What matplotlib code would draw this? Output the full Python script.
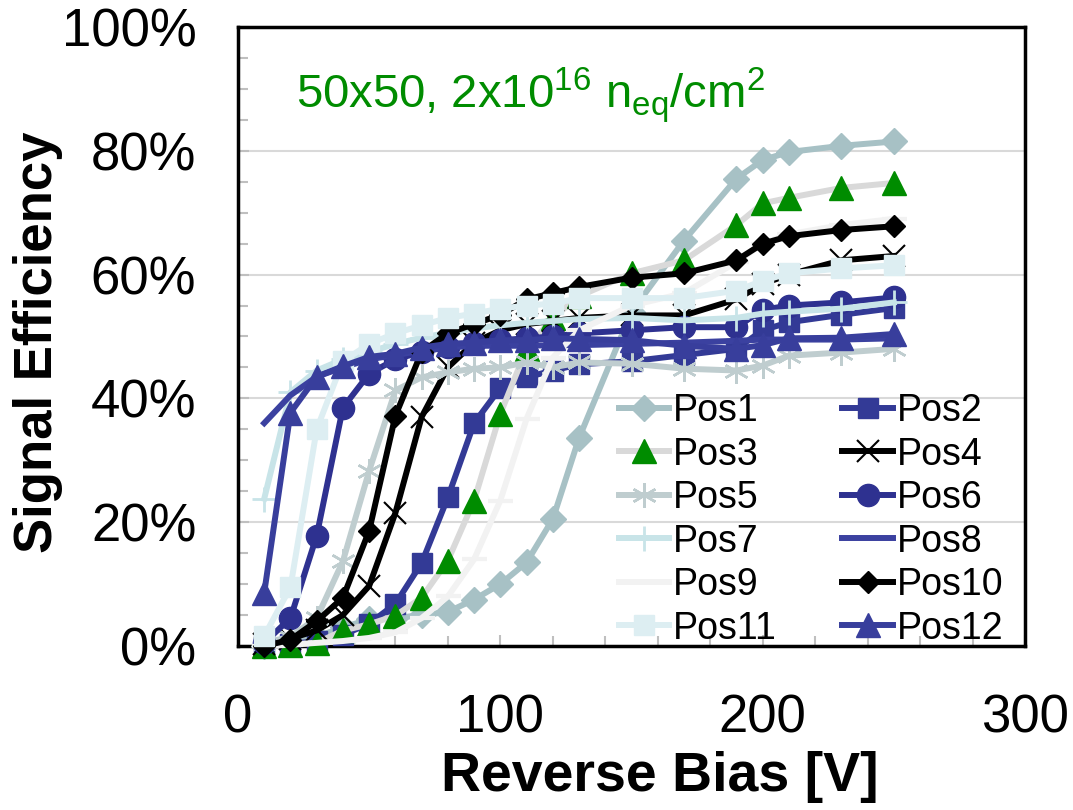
import matplotlib
matplotlib.use("Agg")
import matplotlib.pyplot as plt
from matplotlib.ticker import MultipleLocator, FuncFormatter

# Fonts
plt.rcParams["font.family"] = ["Liberation Sans", "DejaVu Sans"]
plt.rcParams["mathtext.default"] = "regular"

# Data: reverse bias [V] and signal efficiency [%] per position
bias = [10, 20, 30, 40, 50, 60, 70, 80, 90, 100, 110, 120, 130,
        150, 170, 190, 200, 210, 230, 250]

pos1 = [0, 0.5, 1.5, 3, 4.3, 4.5, 5, 5.5, 7.5, 10, 13.5, 20.5, 33.6,
        54, 65.5, 75.5, 78.5, 79.8, 80.8, 81.5]
pos2 = [0, 0.3, 0.8, 1.8, 3.6, 6.8, 13.4, 24, 36, 41.7, 43.4, 44.5, 45.5,
        46, 47, 48, 51, 52.3, 53.5, 54.6]
pos3 = [0, 0.2, 0.5, 2.5, 3.5, 4.9, 7.8, 13.8, 23.5, 37.5, 48, 53, 56.5,
        60.2, 62.3, 68, 71.5, 72.4, 74, 74.8]
pos4 = [0.3, 1.2, 2.5, 5, 9.7, 21.5, 37, 45, 49, 51, 52, 52.5, 53,
        53.4, 53.4, 56, 58.5, 60, 62.3, 63]
pos5 = [0.5, 1.5, 4.5, 13.7, 28.3, 41.3, 43.4, 44.2, 44.8, 45, 45.8, 45, 45.8,
        45.6, 44.8, 44.5, 45.3, 46.9, 47.4, 48]
pos6 = [0.5, 4.5, 17.8, 38.5, 44, 46.3, 47.5, 48.3, 49, 49.4, 49.7, 50, 50.5,
        51, 51.5, 51.5, 54.3, 55, 55.5, 56.3]
pos7 = [23.8, 41, 44.5, 46.3, 47.5, 48.8, 49.8, 50.6, 51.3, 51.8, 52.2, 52.5, 52.8,
        53, 52.6, 53, 53.7, 54, 54.5, 55.5]
pos8 = [36, 40.5, 43.5, 45, 46.3, 47, 47.7, 48.2, 48.5, 48.5, 48.5, 48.6, 48.6,
        48.8, 49, 49.3, 49.5, 49.5, 49.5, 49.7]
pos9 = [0, 0.2, 0.5, 0.8, 1.3, 2.2, 4.5, 8, 14, 23.5, 36.7, 46.6, 51,
        55, 57, 62, 65, 66.5, 68, 69]
pos10 = [0, 1, 4, 7.8, 18.6, 37.2, 47.5, 50.5, 52, 53.5, 56, 57, 58,
         59.5, 60.2, 62.3, 65, 66.2, 67.2, 67.8]
pos11 = [1.6, 9.5, 35, 46, 48.8, 50.5, 51.8, 53, 53.7, 54.5, 55, 55.3, 56.2,
         56.2, 56.2, 57.4, 59, 60.2, 61, 61.5]
pos12 = [8.6, 37.7, 43.5, 45.2, 46.7, 47.2, 48.2, 48.8, 49, 49.4, 49.4, 49.7, 49.6,
         49.4, 48.5, 48, 48.6, 49.7, 49.8, 50.4]

labels = ["Pos%d" % i for i in range(1, 13)]
series = [pos1, pos2, pos3, pos4, pos5, pos6, pos7, pos8, pos9, pos10, pos11, pos12]

# Styles: line colour, marker, marker colour, marker size, marker edge width
styles = [
    ("#A7C1C5", "D", "#A7C1C5", 13, 1),
    ("#333A96", "s", "#333A96", 15, 1),
    ("#D9D9D9", "^", "#008C00", 17, 1),
    ("#000000", "x", "#000000", 16, 1.5),
    ("#BFCDCF", (6, 2, 0), "#BFCDCF", 18, 1.8),
    ("#2E3190", "o", "#2E3190", 16, 1),
    ("#C8E4E8", "+", "#C8E4E8", 18, 2),
    ("#3B41A0", "None", "#3B41A0", 1, 1),
    ("#F2F2F2", "_", "#F2F2F2", 18, 3),
    ("#000000", "D", "#000000", 11, 1),
    ("#DDEEF2", "s", "#DDEEF2", 15, 1),
    ("#383E9C", "^", "#383E9C", 17, 1),
]

fig = plt.figure(figsize=(10.73, 8.10), dpi=100)
ax = fig.add_axes([0.2218, 0.2025, 0.7335, 0.7642])

lines = []
for lab, vals, (lc, mk, mc, ms, mew) in zip(labels, series, styles):
    (ln,) = ax.plot(bias, vals, color=lc, lw=4.3, marker=mk, markersize=ms,
                    markerfacecolor=mc, markeredgecolor=mc, markeredgewidth=mew,
                    label=lab, clip_on=False, zorder=3)
    lines.append(ln)

# Axis ranges and ticks
ax.set_xlim(0, 300)
ax.set_ylim(0, 100)
ax.xaxis.set_major_locator(MultipleLocator(100))
ax.xaxis.set_minor_locator(MultipleLocator(20))
ax.yaxis.set_major_locator(MultipleLocator(20))
ax.yaxis.set_minor_locator(MultipleLocator(5))
ax.yaxis.set_major_formatter(FuncFormatter(lambda v, p: "%d%%" % v))
ax.tick_params(axis="both", which="both", direction="in", color="#BFBFBF",
               width=1.5, labelsize=38)
ax.tick_params(axis="both", which="major", length=8)
ax.tick_params(axis="both", which="minor", length=7)
ax.tick_params(axis="y", which="major", pad=30)
ax.tick_params(axis="x", which="major", pad=34)

ax.grid(axis="y", which="major", color="#D9D9D9", lw=1.5, zorder=0)
ax.set_axisbelow(True)
for sp in ax.spines.values():
    sp.set_color("black")
    sp.set_linewidth(2.5)

# Labels
ax.set_xlabel("Reverse Bias [V]", fontsize=40, fontweight="bold")
ax.set_ylabel("Signal Efficiency", fontsize=38, fontweight="bold")
ax.xaxis.set_label_coords(0.536, -0.17)
ax.yaxis.set_label_coords(-0.222, 0.49)

# Annotation
ax.text(22, 87, "50x50, 2x10$^{16}$ n$_{eq}$/cm$^{2}$", color="#008C00",
        fontsize=34, va="baseline", ha="left")

# Legend, row-major order in two columns
order = [0, 2, 4, 6, 8, 10, 1, 3, 5, 7, 9, 11]
ax.legend([lines[i] for i in order], [labels[i] for i in order], ncol=2,
          loc="upper left", bbox_to_anchor=(0.455, 0.445), frameon=False,
          fontsize=27, handlelength=1.35, handletextpad=0.1,
          labelspacing=0.2, columnspacing=1.75, borderpad=0.1)

fig.savefig("out.png", dpi=100)
plt.close(fig)
